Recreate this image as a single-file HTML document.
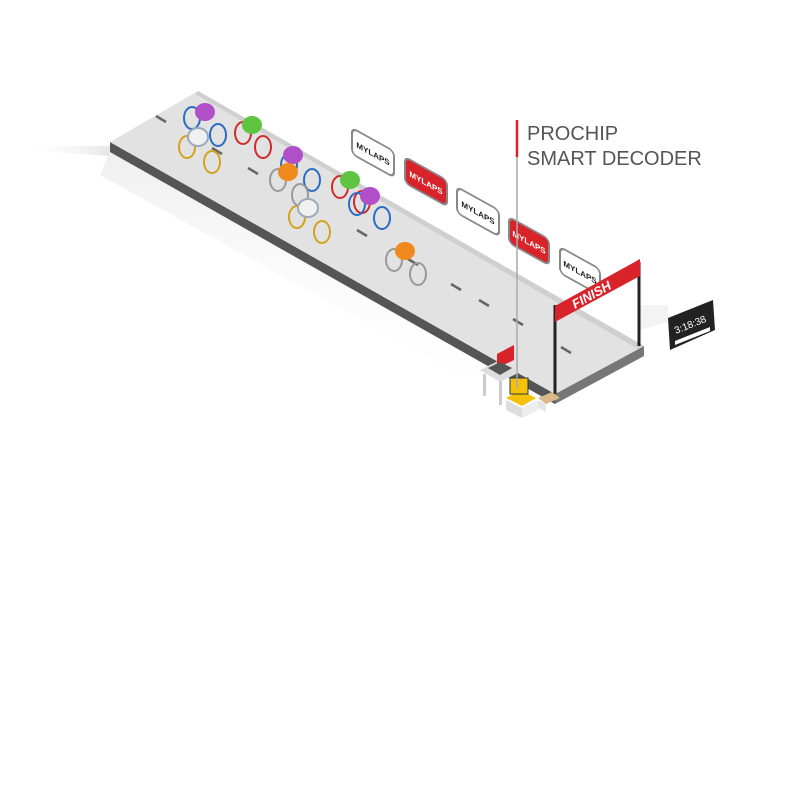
<!DOCTYPE html>
<html><head><meta charset="utf-8"><style>
body{margin:0;background:#fff}
svg{display:block}
</style></head><body>
<svg width="800" height="800" viewBox="0 0 800 800" xmlns="http://www.w3.org/2000/svg" font-family="Liberation Sans, sans-serif">
<defs>
<linearGradient id="sh" x1="0" y1="0" x2="0" y2="1"><stop offset="0" stop-color="#e8e8e8"/><stop offset="1" stop-color="#fff" stop-opacity="0"/></linearGradient>
<linearGradient id="sh2" x1="0" y1="0" x2="1" y2="0"><stop offset="0" stop-color="#fff" stop-opacity="0"/><stop offset="1" stop-color="#e6e6e6"/></linearGradient>
</defs>
<polygon points="20,146 110,146 110,156 20,150" fill="url(#sh2)"/>
<polygon points="110,152 555,404 540,420 100,175" fill="url(#sh)" opacity="0.7"/>
<polygon points="640,305 668,305 668,322 640,330" fill="#eee" opacity="0.7"/>
<polygon points="110,142 555,394 555,404 110,152" fill="#555"/>
<polygon points="555,394 644,346 644,356 555,404" fill="#777"/>
<polygon points="110,142 198,91 644,346 555,394" fill="#e2e2e2"/>
<polygon points="198,91 644,346 638,349 195,94" fill="#cfcfcf"/>
<g stroke="#666" stroke-width="2.5">
<line x1="156" y1="116" x2="166" y2="122"/><line x1="212" y1="148" x2="222" y2="154"/><line x1="248" y1="168" x2="258" y2="174"/><line x1="306" y1="201" x2="316" y2="207"/><line x1="357" y1="230" x2="367" y2="236"/><line x1="408" y1="259" x2="418" y2="265"/><line x1="451" y1="284" x2="461" y2="290"/><line x1="479" y1="300" x2="489" y2="306"/><line x1="513" y1="319" x2="523" y2="325"/><line x1="561" y1="347" x2="571" y2="353"/>
</g>
<g>
<g transform="translate(352,128) skewY(29)"><rect x="0" y="0" width="42" height="26" rx="5" fill="#fff" stroke="#888" stroke-width="2"/><text x="21" y="17" font-size="8" font-weight="bold" text-anchor="middle" fill="#222">MYLAPS</text></g>
<g transform="translate(405,157) skewY(29)"><rect x="0" y="0" width="42" height="26" rx="5" fill="#d8232a" stroke="#888" stroke-width="2"/><text x="21" y="17" font-size="8" font-weight="bold" text-anchor="middle" fill="#fff">MYLAPS</text></g>
<g transform="translate(457,187) skewY(29)"><rect x="0" y="0" width="42" height="26" rx="5" fill="#fff" stroke="#888" stroke-width="2"/><text x="21" y="17" font-size="8" font-weight="bold" text-anchor="middle" fill="#222">MYLAPS</text></g>
<g transform="translate(509,217) skewY(29)"><rect x="0" y="0" width="40" height="26" rx="5" fill="#d8232a" stroke="#888" stroke-width="2"/><text x="20" y="17" font-size="8" font-weight="bold" text-anchor="middle" fill="#fff">MYLAPS</text></g>
<g transform="translate(560,247) skewY(29)"><rect x="0" y="0" width="40" height="26" rx="5" fill="#fff" stroke="#888" stroke-width="2"/><text x="20" y="17" font-size="8" font-weight="bold" text-anchor="middle" fill="#222">MYLAPS</text></g>
</g>
<g stroke-width="2" fill="none">
<g><ellipse cx="192" cy="118" rx="8" ry="11" stroke="#2b6cc4"/><ellipse cx="218" cy="135" rx="8" ry="11" stroke="#2b6cc4"/><ellipse cx="205" cy="112" rx="10" ry="9" fill="#b04fc8" stroke="none"/></g>
<g><ellipse cx="187" cy="147" rx="8" ry="11" stroke="#d4a21c"/><ellipse cx="212" cy="162" rx="8" ry="11" stroke="#d4a21c"/><ellipse cx="198" cy="137" rx="10" ry="9" fill="#f0f0f0" stroke="#9ab"/></g>
<g><ellipse cx="243" cy="133" rx="8" ry="11" stroke="#d02a2a"/><ellipse cx="263" cy="147" rx="8" ry="11" stroke="#d02a2a"/><ellipse cx="252" cy="125" rx="10" ry="9" fill="#5fc440" stroke="none"/></g>
<g><ellipse cx="289" cy="165" rx="8" ry="11" stroke="#2b6cc4"/><ellipse cx="312" cy="180" rx="8" ry="11" stroke="#2b6cc4"/><ellipse cx="293" cy="155" rx="10" ry="9" fill="#b04fc8" stroke="none"/></g>
<g><ellipse cx="278" cy="180" rx="8" ry="11" stroke="#999"/><ellipse cx="300" cy="195" rx="8" ry="11" stroke="#999"/><ellipse cx="288" cy="172" rx="10" ry="9" fill="#f08a1e" stroke="none"/></g>
<g><ellipse cx="340" cy="187" rx="8" ry="11" stroke="#d02a2a"/><ellipse cx="362" cy="202" rx="8" ry="11" stroke="#d02a2a"/><ellipse cx="350" cy="180" rx="10" ry="9" fill="#5fc440" stroke="none"/></g>
<g><ellipse cx="357" cy="204" rx="8" ry="11" stroke="#2b6cc4"/><ellipse cx="382" cy="218" rx="8" ry="11" stroke="#2b6cc4"/><ellipse cx="370" cy="196" rx="10" ry="9" fill="#b04fc8" stroke="none"/></g>
<g><ellipse cx="297" cy="217" rx="8" ry="11" stroke="#d4a21c"/><ellipse cx="322" cy="232" rx="8" ry="11" stroke="#d4a21c"/><ellipse cx="308" cy="208" rx="10" ry="9" fill="#f0f0f0" stroke="#9ab"/></g>
<g><ellipse cx="394" cy="260" rx="8" ry="11" stroke="#999"/><ellipse cx="418" cy="274" rx="8" ry="11" stroke="#999"/><ellipse cx="405" cy="251" rx="10" ry="9" fill="#f08a1e" stroke="none"/></g>
</g>
<line x1="555" y1="305" x2="555" y2="394" stroke="#222" stroke-width="3"/>
<line x1="639" y1="262" x2="639" y2="346" stroke="#222" stroke-width="3"/>
<polygon points="555,306 640,259 640,276 555,322" fill="#d8232a"/>
<text transform="translate(575,309) rotate(-29)" font-size="13" font-weight="bold" font-style="italic" fill="#fff">FINISH</text>
<polygon points="480,370 500,360 520,372 500,382" fill="#ddd"/>
<rect x="483" y="374" width="3" height="22" fill="#ccc"/><rect x="499" y="381" width="3" height="24" fill="#ccc"/>
<polygon points="497,354 514,345 514,360 497,368" fill="#d8232a"/>
<polygon points="488,368 500,362 512,368 500,375" fill="#555"/>
<polygon points="506,398 520,390 536,398 522,406" fill="#f4c20d"/>
<rect x="510" y="378" width="18" height="16" fill="#f4c20d" stroke="#333"/>
<polygon points="506,400 522,408 522,418 506,410" fill="#ddd"/>
<polygon points="522,408 538,400 538,410 522,418" fill="#eee"/>
<polygon points="538,398 552,392 560,398 546,404" fill="#d9b98a"/>
<polygon points="538,400 546,404 546,412 538,408" fill="#e5e5e5"/>
<line x1="517" y1="120" x2="517" y2="157" stroke="#d8232a" stroke-width="2.5"/>
<line x1="517" y1="157" x2="517" y2="388" stroke="#aaa" stroke-width="1.5"/>
<text x="527" y="140" font-size="20" fill="#555">PROCHIP</text>
<text x="527" y="165" font-size="20" fill="#555">SMART DECODER</text>
<polygon points="668,318 713,300 715,330 670,350" fill="#222"/>
<text transform="translate(676,334) rotate(-22)" font-size="10" fill="#fff">3:18:38</text>
<polygon points="675,341 710,327 710,331 675,345" fill="#fff"/>
</svg>
</body></html>
